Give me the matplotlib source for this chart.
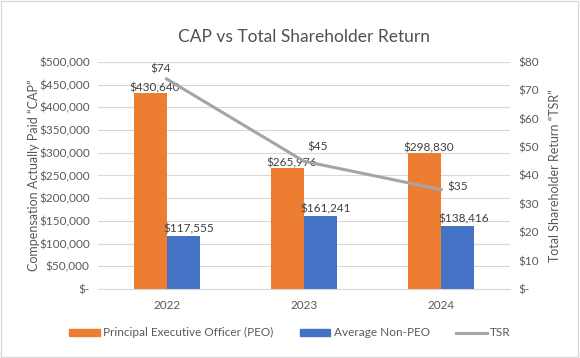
import matplotlib.pyplot as plt
import matplotlib.ticker as mticker
from matplotlib.patches import Rectangle
from matplotlib.lines import Line2D
import numpy as np

plt.rcParams['font.family'] = ['Lato', 'DejaVu Sans']

years = ['2022', '2023', '2024']
peo = [430640, 265976, 298830]
non_peo = [117555, 161241, 138416]
tsr = [74, 45, 35]

orange = '#ED7D31'
blue = '#4472C4'
grey = '#A5A5A5'
txt = '#595959'

fig = plt.figure(figsize=(5.8, 3.58), dpi=100)
ax = fig.add_axes([0.169, 0.193, 0.71, 0.634])
ax2 = ax.twinx()

x = np.arange(len(years))
w = 0.24
ax.bar(x - w / 2, peo, w, color=orange, zorder=2)
ax.bar(x + w / 2, non_peo, w, color=blue, zorder=2)
ax2.plot(x, tsr, color=grey, lw=2.2, zorder=3)

ax.set_xlim(-0.5, 2.5)
ax.set_ylim(0, 500000)
ax2.set_ylim(0, 80)
ax.set_yticks(np.arange(0, 500001, 50000))
ax2.set_yticks(np.arange(0, 81, 10))
ax.yaxis.set_major_formatter(mticker.FuncFormatter(lambda v, p: '$-' if v == 0 else f'${v:,.0f}'))
ax2.yaxis.set_major_formatter(mticker.FuncFormatter(lambda v, p: '$-' if v == 0 else f'${v:.0f}'))
ax.set_xticks(x)
ax.set_xticklabels(years)

ax.grid(axis='y', color='#D9D9D9', lw=0.8, zorder=0)
for a in (ax, ax2):
    for s in a.spines.values():
        s.set_visible(False)
    a.tick_params(length=0, labelsize=8.5, colors=txt, pad=6)
ax.spines['bottom'].set_visible(True)
ax.spines['bottom'].set_color('#D9D9D9')
ax.tick_params(axis='x', pad=8)

ax.set_ylabel('Compensation Actually Paid “CAP”', fontsize=9, color=txt, labelpad=-1)
ax2.set_ylabel('Total Shareholder Return “TSR”', fontsize=9, color=txt, labelpad=7)
ax.set_title('CAP vs Total Shareholder Return', fontsize=12.5, color='#505050', pad=14)

for i in range(len(years)):
    ax.annotate(f'${peo[i]:,}', (x[i] - w / 2, peo[i]), xytext=(3, 0), textcoords='offset points',
                ha='center', va='bottom', fontsize=8.5, color='#404040')
    ax.annotate(f'${non_peo[i]:,}', (x[i] + w / 2, non_peo[i]), xytext=(4, 1), textcoords='offset points',
                ha='center', va='bottom', fontsize=8.5, color='#404040')

tsr_off = [(-4, 3), (10, 6), (12, -2)]
for i in range(len(years)):
    ax2.annotate(f'${tsr[i]}', (x[i], tsr[i]), xytext=tsr_off[i], textcoords='offset points',
                 ha='center', va='bottom', fontsize=8.5, color='#404040')

handles = [Rectangle((0, 0), 1, 1, color=orange), Rectangle((0, 0), 1, 1, color=blue),
           Line2D([], [], color=grey, lw=2.2)]
fig.legend(handles, ['Principal Executive Officer (PEO)', 'Average Non-PEO', 'TSR'],
           loc='center', bbox_to_anchor=(0.5, 0.07), ncol=3, frameon=False, fontsize=8.5,
           labelcolor=txt, handlelength=2.6, handleheight=0.6, columnspacing=2.2, handletextpad=0.3)

fig.patches.append(Rectangle((0.002, 0.003), 0.995, 0.994, transform=fig.transFigure,
                             fill=False, edgecolor='#D9D9D9', lw=1))

fig.savefig('out.png', dpi=100)
